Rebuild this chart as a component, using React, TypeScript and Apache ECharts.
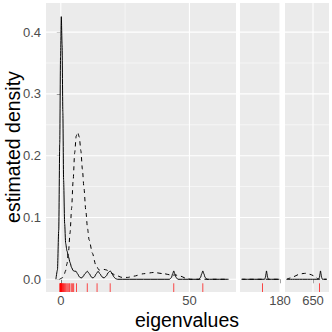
import React, { useEffect, useRef } from "react";
import * as echarts from "echarts";

// ---- axis ticks / gridlines ----
const yMajor = [0, 0.1, 0.2, 0.3, 0.4];
const yMinor = [0.05, 0.15, 0.25, 0.35];
const yTickLabels = [0, 0.1, 0.2, 0.3, 0.4];

const p1Ticks = [0, 50];
const p1Minor = [25];
const p2Ticks = [180];
const p3Ticks = [650];

// ---- estimated densities (x, density) ----
const solidP1: number[][] = [
  [-1.9, 0], [-1.3, 0.015], [-0.8, 0.08], [-0.4, 0.22], [-0.1, 0.36], [0.2, 0.425],
  [0.5, 0.38], [0.8, 0.27], [1.1, 0.16], [1.5, 0.09], [1.9, 0.058], [2.4, 0.046],
  [3.0, 0.036], [3.6, 0.027], [4.2, 0.019], [4.8, 0.014], [5.4, 0.013], [5.9, 0.013],
  [6.5, 0.009], [7.2, 0.004], [7.9, 0.002], [8.6, 0.004], [9.4, 0.009], [10.3, 0.013],
  [11.1, 0.009], [11.8, 0.004], [12.5, 0.002], [13.1, 0.004], [13.8, 0.009], [14.5, 0.013],
  [15.2, 0.009], [16.0, 0.004], [16.8, 0.002], [17.6, 0.005], [18.5, 0.011], [19.2, 0.0135],
  [19.9, 0.01], [20.6, 0.004], [21.3, 0.001], [22, 0], [42.3, 0], [43.0, 0.003],
  [43.5, 0.009], [43.9, 0.0135], [44.3, 0.009], [44.8, 0.003], [45.5, 0], [53.6, 0],
  [54.3, 0.003], [54.8, 0.009], [55.2, 0.0135], [55.6, 0.009], [56.1, 0.003], [56.8, 0],
  [65.2, 0],
];
const dashedP1: number[][] = [
  [-0.5, 0], [0.5, 0.002], [1.2, 0.006], [1.8, 0.013], [2.4, 0.025], [3.0, 0.045],
  [3.6, 0.075], [4.2, 0.115], [4.8, 0.16], [5.4, 0.205], [6.0, 0.232], [6.6, 0.238],
  [7.2, 0.23], [7.8, 0.208], [8.4, 0.178], [9.0, 0.148], [9.7, 0.112], [10.4, 0.082],
  [11.0, 0.064], [12.3, 0.042], [13.6, 0.023], [14.9, 0.015], [15.8, 0.015], [16.8, 0.016],
  [17.8, 0.015], [18.7, 0.013], [20.0, 0.009], [21.3, 0.0066], [23.8, 0.003], [26.0, 0.003],
  [28.3, 0.005], [32.2, 0.009], [36.1, 0.011], [40.0, 0.009], [43.3, 0.0066], [44.5, 0.007],
  [46.5, 0.005], [49.0, 0.001], [50.5, 0], [65.2, 0],
];
const solidP2: number[][] = [
  [141.7, 0], [164.6, 0], [165.4, 0.003], [166.0, 0.009], [166.5, 0.0135], [167.0, 0.009],
  [167.6, 0.003], [168.4, 0], [179.3, 0],
];
const dashedP2: number[][] = [[141.7, 0], [179.3, 0]];
const solidP3: number[][] = [
  [623.7, 0], [655.6, 0], [656.4, 0.003], [657.0, 0.009], [657.5, 0.0135], [658.0, 0.009],
  [658.6, 0.003], [659.4, 0], [663.7, 0],
];
const dashedP3: number[][] = [
  [623.7, 0], [626.3, 0.0016], [630, 0.004], [636.3, 0.008], [640, 0.0093], [643, 0.0097],
  [647, 0.008], [651.3, 0.0053], [654.7, 0.001], [656.5, 0], [663.7, 0],
];

// ---- observed eigenvalues (rug) ----
const rugP1 = [
  -0.4, -0.2, -0.1, 0, 0, 0, 0.1, 0.2, 0.3, 0.5, 0.7, 0.9, 1.1, 1.4, 1.7, 2.0, 2.4, 2.8,
  3.2, 3.5, 4.1, 4.6, 5.0, 6.1, 10.3, 14.1, 19.2, 43.9, 55.2,
];
const rugP2 = [162.5];
const rugP3 = [656.5];

const Y_MIN = -0.0206;
const Y_MAX = 0.4471;
const xRanges = [
  [-5.75, 68.1],
  [140, 180],
  [622, 666],
];
const FONT = "'Liberation Sans', Arial, Helvetica, sans-serif";

function gridLines(idx: number, xsMajor: number[], xsMinor: number[]) {
  const data: number[][] = [];
  xsMajor.forEach((v) => data.push([v, 0, 0, 1]));
  xsMinor.forEach((v) => data.push([v, 0, 0, 0]));
  yMajor.forEach((v) => data.push([xRanges[idx][0], v, 1, 1]));
  yMinor.forEach((v) => data.push([xRanges[idx][0], v, 1, 0]));
  return {
    type: "custom",
    xAxisIndex: idx,
    yAxisIndex: idx,
    silent: true,
    z: 1,
    clip: false,
    encode: { x: 0, y: 1 },
    data,
    renderItem: (params: any, api: any) => {
      const cs = params.coordSys;
      const horiz = api.value(2) === 1;
      const major = api.value(3) === 1;
      const p = api.coord([api.value(0), api.value(1)]);
      const shape = horiz
        ? { x1: cs.x, y1: p[1], x2: cs.x + cs.width, y2: p[1] }
        : { x1: p[0], y1: cs.y, x2: p[0], y2: cs.y + cs.height };
      return {
        type: "line",
        shape,
        style: { stroke: "#FFFFFF", lineWidth: major ? 1.1 : 0.55 },
      };
    },
  };
}

function rug(idx: number, values: number[]) {
  return {
    type: "custom",
    xAxisIndex: idx,
    yAxisIndex: idx,
    silent: true,
    z: 4,
    clip: false,
    encode: { x: 0, y: 1 },
    data: values.map((v) => [v, 0]),
    renderItem: (params: any, api: any) => {
      const cs = params.coordSys;
      const p = api.coord([api.value(0), 0]);
      const bottom = cs.y + cs.height;
      return {
        type: "line",
        shape: { x1: p[0], y1: bottom, x2: p[0], y2: bottom - 8.7 },
        style: { stroke: "rgba(255,0,0,0.7)", lineWidth: 1 },
      };
    },
  };
}

function densityLine(idx: number, data: number[][], dashed: boolean) {
  return {
    type: "line",
    xAxisIndex: idx,
    yAxisIndex: idx,
    data,
    showSymbol: false,
    symbol: "none",
    smooth: 0.25,
    smoothMonotone: "x",
    z: 3,
    silent: true,
    lineStyle: {
      color: "#000000",
      width: 1,
      type: dashed ? [4, 4] : "solid",
    },
  };
}

function xAxis(idx: number, ticks: number[]) {
  return {
    type: "value",
    gridIndex: idx,
    min: xRanges[idx][0],
    max: xRanges[idx][1],
    axisLine: { show: false },
    splitLine: { show: false },
    axisTick: {
      show: true,
      customValues: ticks,
      length: 4,
      lineStyle: { color: "#333333", width: 1 },
    },
    axisLabel: {
      show: true,
      customValues: ticks,
      margin: 2,
      color: "#4D4D4D",
      fontSize: 13,
      lineHeight: 13,
      fontFamily: FONT,
      formatter: (v: number) => String(v),
    },
  };
}

function yAxis(idx: number) {
  const first = idx === 0;
  return {
    type: "value",
    gridIndex: idx,
    min: Y_MIN,
    max: Y_MAX,
    axisLine: { show: false },
    splitLine: { show: false },
    axisTick: {
      show: first,
      customValues: yTickLabels,
      length: 4,
      lineStyle: { color: "#333333", width: 1 },
    },
    axisLabel: {
      show: first,
      customValues: yTickLabels,
      margin: 5,
      color: "#4D4D4D",
      fontSize: 13,
      lineHeight: 13,
      fontFamily: FONT,
      formatter: (v: number) => v.toFixed(1),
    },
  };
}

export default function App() {
  const ref = useRef<HTMLDivElement>(null);
  useEffect(() => {
    if (!ref.current) return;
    const chart = echarts.init(ref.current, undefined, { renderer: "svg" });
    const gridBase = { show: true, backgroundColor: "#EBEBEB", borderWidth: 0, containLabel: false };
    chart.setOption({
      animation: false,
      backgroundColor: "#FFFFFF",
      textStyle: { fontFamily: FONT },
      grid: [
        { ...gridBase, left: 46, top: 3, width: 190, height: 289 },
        { ...gridBase, left: 240, top: 3, width: 40, height: 289 },
        { ...gridBase, left: 285, top: 3, width: 44, height: 289 },
      ],
      xAxis: [xAxis(0, p1Ticks), xAxis(1, p2Ticks), xAxis(2, p3Ticks)],
      yAxis: [yAxis(0), yAxis(1), yAxis(2)],
      graphic: [
        {
          type: "text",
          x: 12.5,
          y: 147,
          rotation: Math.PI / 2,
          style: {
            text: "estimated density",
            fontSize: 19.5,
            lineHeight: 19,
            fontFamily: FONT,
            fill: "#000000",
            textAlign: "center",
            textVerticalAlign: "middle",
          },
        },
        {
          type: "text",
          x: 187,
          y: 319.5,
          style: {
            text: "eigenvalues",
            fontSize: 19.5,
            lineHeight: 19,
            fontFamily: FONT,
            fill: "#000000",
            textAlign: "center",
            textVerticalAlign: "middle",
          },
        },
      ],
      series: [
        gridLines(0, p1Ticks, p1Minor),
        gridLines(1, p2Ticks, []),
        gridLines(2, p3Ticks, []),
        densityLine(0, dashedP1, true),
        densityLine(0, solidP1, false),
        densityLine(1, dashedP2, true),
        densityLine(1, solidP2, false),
        densityLine(2, dashedP3, true),
        densityLine(2, solidP3, false),
        rug(0, rugP1),
        rug(1, rugP2),
        rug(2, rugP3),
      ],
    });
    return () => chart.dispose();
  }, []);
  return (
    <div
      ref={ref}
      style={{ position: "fixed", left: 0, top: 0, width: 332, height: 332 }}
    />
  );
}
